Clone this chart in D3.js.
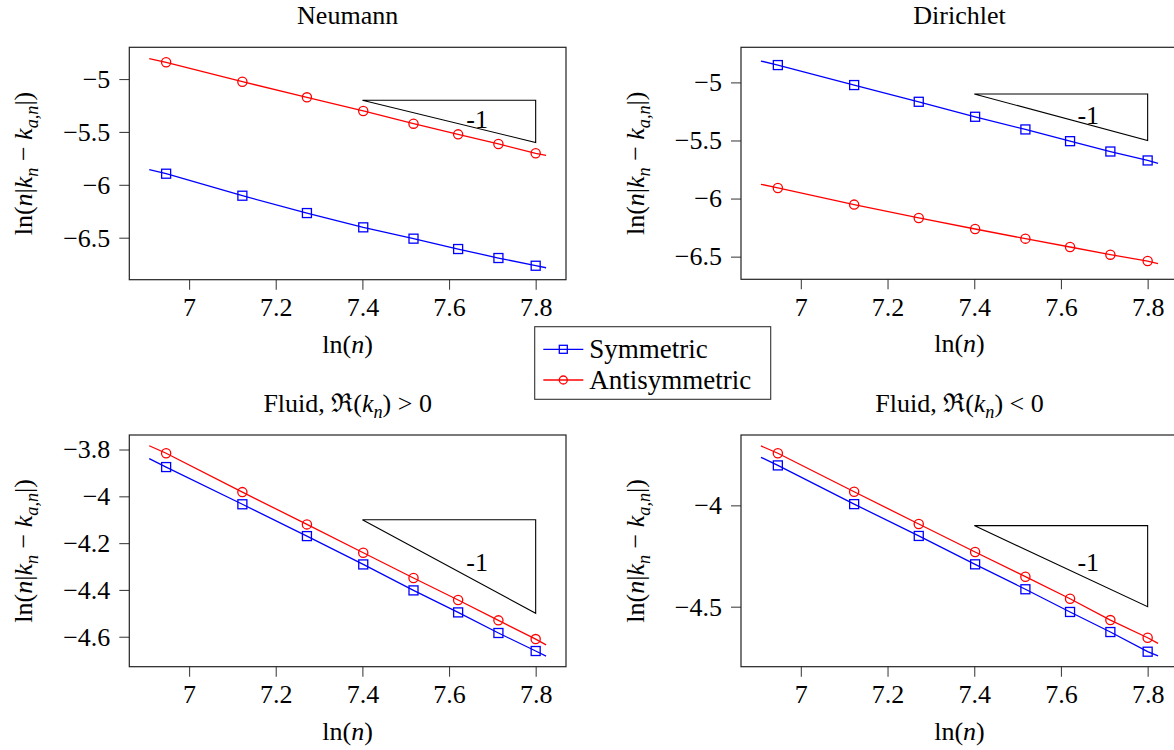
<!DOCTYPE html>
<html>
<head>
<meta charset="utf-8">
<script src="https://cdn.jsdelivr.net/npm/d3@7"></script>
<style>
  body { margin: 0; background: #fff; }
  svg text { font-family: "Liberation Serif", "Times New Roman", serif; fill: #000; }
</style>
</head>
<body>
<div id="chart"></div>
<script>
// ln(n) sample positions: first/last are the line ends, the rest carry markers
const lnN = [6.908, 6.947, 7.123, 7.272, 7.402, 7.518, 7.621, 7.714, 7.800, 7.824];
const markerIdx = [1, 2, 3, 4, 5, 6, 7, 8];

// values
const neumannSym   = [-5.857, -5.895, -6.103, -6.267, -6.402, -6.509, -6.607, -6.692, -6.765, -6.784];
const neumannAnti  = [-4.808, -4.842, -5.025, -5.173, -5.302, -5.422, -5.523, -5.614, -5.702, -5.721];
const dirichletSym = [-4.816, -4.851, -5.023, -5.167, -5.296, -5.405, -5.506, -5.595, -5.672, -5.698];
const dirichletAnti= [-5.877, -5.909, -6.052, -6.167, -6.262, -6.345, -6.417, -6.483, -6.538, -6.560];
const fluidPosSym  = [-3.839, -3.875, -4.034, -4.170, -4.291, -4.402, -4.496, -4.584, -4.661, -4.683];
const fluidPosAnti = [-3.784, -3.816, -3.982, -4.120, -4.241, -4.349, -4.443, -4.530, -4.610, -4.635];
const fluidNegSym  = [-3.763, -3.803, -3.994, -4.151, -4.291, -4.414, -4.526, -4.625, -4.722, -4.743];
const fluidNegAnti = [-3.707, -3.743, -3.933, -4.092, -4.230, -4.352, -4.461, -4.566, -4.653, -4.681];

const xDomain = [6.862, 7.870];
const xTicks = [7, 7.2, 7.4, 7.6, 7.8];

const neumannTicks = [-5, -5.5, -6, -6.5];
const dirichletTicks = [-5, -5.5, -6, -6.5];
const fluidPosTicks = [-3.8, -4, -4.2, -4.4, -4.6];
const fluidNegTicks = [-4, -4.5];

// slope triangle: [x0, x1, yTop, yBottom], label centre [x, y]
const neumannTri = [7.4, 7.8, -5.2, -5.6],   neumannLbl = [7.665, -5.378];
const dirichletTri = [7.4, 7.8, -5.1, -5.5], dirichletLbl = [7.663, -5.282];
const fluidPosTri = [7.4, 7.8, -4.1, -4.5],  fluidPosLbl = [7.665, -4.284];
const fluidNegTri = [7.4, 7.8, -4.1, -4.5],  fluidNegLbl = [7.663, -4.283];

const seriesNames = ["Symmetric", "Antisymmetric"];

const width = 1174, height = 750;
const serif = '"Liberation Serif", "Times New Roman", serif';

const panels = [
  { title: [{ t: "Neumann" }], left: 129.3, right: 566, top: 47.3, bottom: 279.7,
    yDomain: [-6.897, -4.700], yTicks: neumannTicks, sym: neumannSym, anti: neumannAnti,
    tri: neumannTri, lbl: neumannLbl },
  { title: [{ t: "Dirichlet" }], left: 741, right: 1178, top: 47.3, bottom: 279.3,
    yDomain: [-6.695, -4.698], yTicks: dirichletTicks, sym: dirichletSym, anti: dirichletAnti,
    tri: dirichletTri, lbl: dirichletLbl },
  { title: [{ t: "Fluid, \u211C(" }, { t: "k", it: 1 }, { t: "n", it: 1, sub: 1 }, { t: ") > 0" }],
    left: 129.3, right: 566, top: 435, bottom: 666.7,
    yDomain: [-4.728, -3.738], yTicks: fluidPosTicks, sym: fluidPosSym, anti: fluidPosAnti,
    tri: fluidPosTri, lbl: fluidPosLbl },
  { title: [{ t: "Fluid, \u211C(" }, { t: "k", it: 1 }, { t: "n", it: 1, sub: 1 }, { t: ") < 0" }],
    left: 741, right: 1178, top: 435, bottom: 666.7,
    yDomain: [-4.796, -3.653], yTicks: fluidNegTicks, sym: fluidNegSym, anti: fluidNegAnti,
    tri: fluidNegTri, lbl: fluidNegLbl }
];

const yLabelParts = [
  { t: "ln(" }, { t: "n", it: 1 }, { t: "|" }, { t: "k", it: 1 }, { t: "n", it: 1, sub: 1 },
  { t: " \u2212 " }, { t: "k", it: 1 }, { t: "a,n", it: 1, sub: 1 }, { t: "|)" }
];
const xLabelParts = [{ t: "ln(" }, { t: "n", it: 1 }, { t: ")" }];

// write rich text with italic / subscript pieces
function richText(sel, parts, size) {
  let shifted = false;
  parts.forEach(p => {
    const ts = sel.append("tspan").text(p.t);
    if (p.it) ts.attr("font-style", "italic");
    if (p.sub) {
      ts.attr("font-size", size * 0.7).attr("dy", size * 0.22);
      shifted = true;
    } else if (shifted) {
      ts.attr("dy", -size * 0.22);
      shifted = false;
    }
  });
}

const svg = d3.select("#chart")
  .append("svg")
  .attr("width", width)
  .attr("height", height);

const colors = { sym: "#0000ff", anti: "#ff0000" };

panels.forEach(p => {
  const x = d3.scaleLinear().domain(xDomain).range([p.left, p.right]);
  const y = d3.scaleLinear().domain(p.yDomain).range([p.bottom, p.top]);
  const g = svg.append("g");

  // axes
  const gx = g.append("g")
    .attr("transform", `translate(0,${p.bottom})`)
    .call(d3.axisBottom(x).tickValues(xTicks).tickSize(10).tickPadding(8).tickFormat(d3.format("")));
  const gy = g.append("g")
    .attr("transform", `translate(${p.left},0)`)
    .call(d3.axisLeft(y).tickValues(p.yTicks).tickSize(10).tickPadding(9).tickFormat(d3.format("")));
  [gx, gy].forEach(a => {
    a.attr("font-family", serif).attr("font-size", 26);
    a.select(".domain").remove();
    a.selectAll(".tick line").attr("stroke", "#444").attr("stroke-width", 1.1);
    a.selectAll(".tick text").attr("fill", "#000")
      .style("font-family", serif).style("font-size", "26px");
  });

  // frame
  g.append("rect")
    .attr("x", p.left).attr("y", p.top)
    .attr("width", p.right - p.left).attr("height", p.bottom - p.top)
    .attr("fill", "none").attr("stroke", "#222").attr("stroke-width", 1.2);

  // title
  const cx = (p.left + p.right) / 2;
  richText(g.append("text").attr("x", cx).attr("y", p.top - 23)
    .attr("text-anchor", "middle").style("font-size", "26px"), p.title, 26);

  // x label
  richText(g.append("text").attr("x", cx).attr("y", p.bottom + 73)
    .attr("text-anchor", "middle").style("font-size", "26px"), xLabelParts, 26);

  // y label
  richText(g.append("text")
    .attr("transform", `translate(${p.left - 97},${(p.top + p.bottom) / 2}) rotate(-90)`)
    .attr("text-anchor", "middle").style("font-size", "26px"), yLabelParts, 26);

  // slope triangle
  const [tx0, tx1, ty0, ty1] = p.tri;
  g.append("path")
    .attr("d", d3.line()([[x(tx0), y(ty0)], [x(tx1), y(ty0)], [x(tx1), y(ty1)], [x(tx0), y(ty0)]]))
    .attr("fill", "none").attr("stroke", "#000").attr("stroke-width", 1.1);
  g.append("text")
    .attr("x", x(p.lbl[0])).attr("y", y(p.lbl[1]))
    .attr("text-anchor", "middle").attr("dominant-baseline", "central")
    .style("font-size", "26px").text("-1");

  // series
  const line = d3.line().x((d, i) => x(lnN[i])).y(d => y(d));
  [["sym", p.sym], ["anti", p.anti]].forEach(([key, vals]) => {
    g.append("path").attr("d", line(vals))
      .attr("fill", "none").attr("stroke", colors[key]).attr("stroke-width", 1.3);
    const pts = markerIdx.map(i => [lnN[i], vals[i]]);
    if (key === "sym") {
      g.selectAll(null).data(pts).enter().append("rect")
        .attr("x", d => x(d[0]) - 4.5).attr("y", d => y(d[1]) - 4.5)
        .attr("width", 9).attr("height", 9)
        .attr("fill", "none").attr("stroke", colors[key]).attr("stroke-width", 1.3);
    } else {
      g.selectAll(null).data(pts).enter().append("circle")
        .attr("cx", d => x(d[0])).attr("cy", d => y(d[1])).attr("r", 4.6)
        .attr("fill", "none").attr("stroke", colors[key]).attr("stroke-width", 1.3);
    }
  });
});

// legend
const lg = svg.append("g").attr("transform", "translate(534.7,326.7)");
lg.append("rect").attr("width", 236).attr("height", 72.6)
  .attr("fill", "#fff").attr("stroke", "#333").attr("stroke-width", 1.1);
seriesNames.forEach((name, i) => {
  const key = i === 0 ? "sym" : "anti";
  const ry = 22.6 + i * 30.7;
  lg.append("line").attr("x1", 8.6).attr("x2", 48.6).attr("y1", ry).attr("y2", ry)
    .attr("stroke", colors[key]).attr("stroke-width", 1.3);
  if (key === "sym") {
    lg.append("rect").attr("x", 28.6 - 4).attr("y", ry - 4).attr("width", 8).attr("height", 8)
      .attr("fill", "none").attr("stroke", colors[key]).attr("stroke-width", 1.3);
  } else {
    lg.append("circle").attr("cx", 28.6).attr("cy", ry).attr("r", 4)
      .attr("fill", "none").attr("stroke", colors[key]).attr("stroke-width", 1.3);
  }
  lg.append("text").attr("x", 54.6).attr("y", ry + 9)
    .style("font-size", "27px").text(name);
});
</script>
</body>
</html>
